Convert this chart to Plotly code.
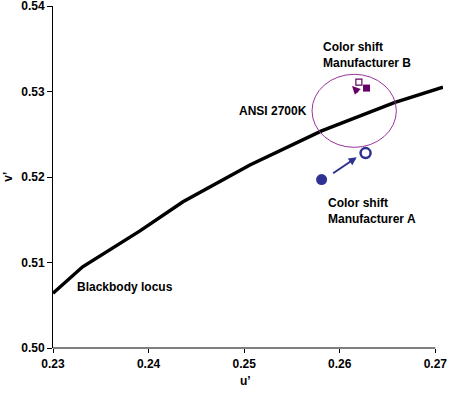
import plotly.graph_objects as go

# Blackbody locus (u', v')
locus_u = [0.2300, 0.2331, 0.2391, 0.2436, 0.2506, 0.2581, 0.2657, 0.2708]
locus_v = [0.5064, 0.5095, 0.5137, 0.5171, 0.5214, 0.5254, 0.5287, 0.5305]

# Manufacturer A: before (filled) and after (open)
mfr_a_u = [0.2581, 0.2627]
mfr_a_v = [0.5197, 0.5228]
# Manufacturer B: before (open) and after (filled)
mfr_b_u = [0.2620, 0.2628]
mfr_b_v = [0.5311, 0.5304]

# Arrows (tail -> head)
arrow_a = [(0.25915, 0.52032), (0.26177, 0.52230)]
arrow_b = [(0.26208, 0.52974), (0.26128, 0.53064)]

# ANSI 2700K tolerance ellipse: center and half-widths
ansi_center = (0.26151, 0.52774)
ansi_radius = (0.00441, 0.00427)

x_ticks = [0.23, 0.24, 0.25, 0.26, 0.27]
y_ticks = [0.50, 0.51, 0.52, 0.53, 0.54]
x_range = [0.23, 0.2708]
y_range = [0.50, 0.5400001]

BLUE = "#2E3192"
PURPLE = "#660066"
ELLIPSE = "#993399"
FONT = "Liberation Sans, Arial, sans-serif"

fig = go.Figure()

fig.add_trace(go.Scatter(x=locus_u, y=locus_v, mode="lines",
                         line=dict(color="black", width=3.5), hoverinfo="skip"))

fig.add_trace(go.Scatter(x=[mfr_a_u[0]], y=[mfr_a_v[0]], mode="markers",
                         marker=dict(symbol="circle", size=11, color=BLUE)))
fig.add_trace(go.Scatter(x=[mfr_a_u[1]], y=[mfr_a_v[1]], mode="markers",
                         marker=dict(symbol="circle-open", size=10, color=BLUE,
                                     line=dict(width=2.5, color=BLUE))))
fig.add_trace(go.Scatter(x=[mfr_b_u[0]], y=[mfr_b_v[0]], mode="markers",
                         marker=dict(symbol="square-open", size=6, color=PURPLE,
                                     line=dict(width=1.2, color=PURPLE))))
fig.add_trace(go.Scatter(x=[mfr_b_u[1]], y=[mfr_b_v[1]], mode="markers",
                         marker=dict(symbol="square", size=7, color=PURPLE)))

fig.add_shape(type="circle", xref="x", yref="y",
              x0=ansi_center[0] - ansi_radius[0], x1=ansi_center[0] + ansi_radius[0],
              y0=ansi_center[1] - ansi_radius[1], y1=ansi_center[1] + ansi_radius[1],
              line=dict(color=ELLIPSE, width=1))

# x axis line only up to 0.27
fig.add_shape(type="line", xref="paper", yref="paper",
              x0=0, x1=(x_ticks[-1] - x_range[0]) / (x_range[1] - x_range[0]),
              y0=0, y1=0, line=dict(color="black", width=1))

for (tail, head, col, w, hs) in [(arrow_a[0], arrow_a[1], BLUE, 2, 0.8),
                                  (arrow_b[0], arrow_b[1], PURPLE, 1.5, 1.1)]:
    fig.add_annotation(x=head[0], y=head[1], ax=tail[0], ay=tail[1],
                       xref="x", yref="y", axref="x", ayref="y",
                       showarrow=True, arrowhead=2, arrowsize=hs, arrowwidth=w,
                       arrowcolor=col, text="")

tfont = dict(family=FONT, size=12, color="black", weight="bold")
labels = [
    ("Color shift<br>Manufacturer B", 0.25808, 0.53429),
    ("ANSI 2700K", 0.24925, 0.52772),
    ("Color shift<br>Manufacturer A", 0.25860, 0.51602),
    ("Blackbody locus", 0.23227, 0.50717),
]
for text, x, y in labels:
    fig.add_annotation(x=x, y=y, xref="x", yref="y", text=text, showarrow=False,
                       xanchor="left", yanchor="middle", align="left", font=tfont)

fig.add_annotation(x=0.494, y=-0.096, xref="paper", yref="paper", text="u’",
                   showarrow=False, xanchor="center", yanchor="middle", font=tfont)
fig.add_annotation(x=-0.116, y=0.5, xref="paper", yref="paper", text="v’",
                   showarrow=False, textangle=-90, xanchor="center",
                   yanchor="middle", font=tfont)

fig.update_layout(
    width=450, height=397,
    margin=dict(l=53, r=7, t=6, b=49),
    paper_bgcolor="white", plot_bgcolor="white",
    showlegend=False,
    font=dict(family=FONT, size=12, color="black"),
    xaxis=dict(range=x_range, tickvals=x_ticks, tickformat=".2f",
               showgrid=False, zeroline=False, showline=False, automargin=False,
               ticks="outside", ticklen=4, tickcolor="black",
               ticklabelstandoff=1, ticklabeloverflow="allow",
               tickfont=tfont),
    yaxis=dict(range=y_range, tickvals=y_ticks, tickformat=".2f",
               showgrid=False, zeroline=False, showline=True, linecolor="black",
               linewidth=1, ticks="outside", ticklen=5, tickcolor="black",
               ticklabeloverflow="allow",
               automargin=False, tickfont=tfont),
)

fig.write_html("out.html", config={"displayModeBar": False},
               post_script="document.body.style.margin='0';document.body.style.overflow='hidden';")
